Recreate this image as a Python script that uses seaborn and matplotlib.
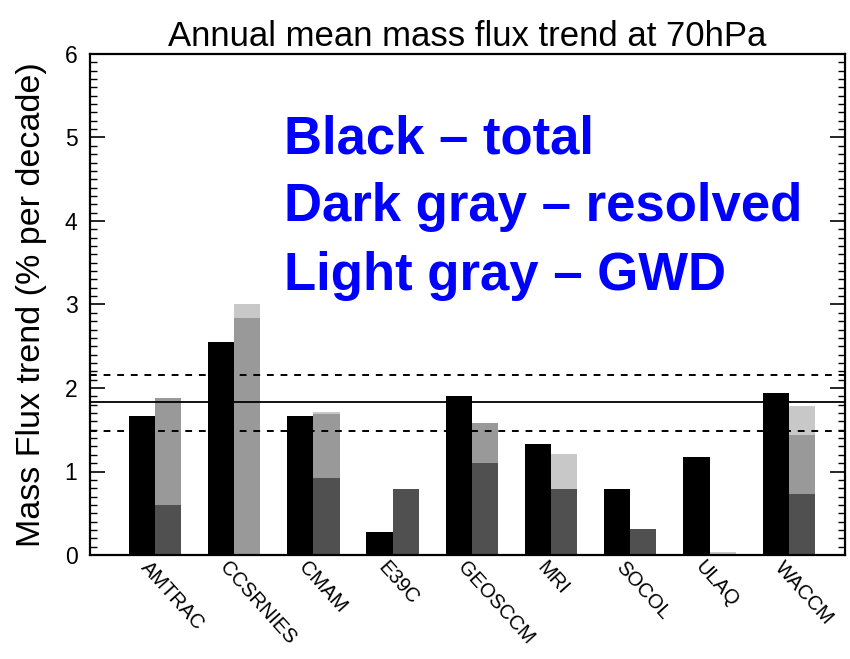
import numpy as np
import pandas as pd
import matplotlib
matplotlib.use("Agg")
import matplotlib.pyplot as plt
import matplotlib.transforms as mtrans
from matplotlib.ticker import MultipleLocator
import seaborn as sns

# ---- data ----
models = ["AMTRAC", "CCSRNIES", "CMAM", "E39C", "GEOSCCM", "MRI", "SOCOL", "ULAQ", "WACCM"]
total = [1.66, 2.55, 1.66, 0.28, 1.91, 1.33, 0.79, 1.17, 1.94]
resolved = [0.60, 0.00, 0.92, 0.79, 1.10, 0.79, 0.31, 0.00, 0.73]
mid_part = [1.28, 2.84, 0.77, 0.00, 0.485, 0.00, 0.00, 0.00, 0.71]
gwd_part = [0.00, 0.16, 0.02, 0.00, 0.00, 0.42, 0.00, 0.03, 0.34]
mean_trend = 1.83
spread_upper = 2.15
spread_lower = 1.48
yticks = [0, 1, 2, 3, 4, 5, 6]
title = "Annual mean mass flux trend at 70hPa"
ylabel = "Mass Flux trend (% per decade)"
notes = ["Black \u2013 total", "Dark gray \u2013 resolved", "Light gray \u2013 GWD"]

sns.set_style("ticks")
plt.rcParams["font.family"] = ["Liberation Sans", "DejaVu Sans"]
plt.rcParams["text.color"] = "black"
plt.rcParams["axes.labelcolor"] = "black"
plt.rcParams["xtick.color"] = "black"
plt.rcParams["ytick.color"] = "black"

W, H = 850, 659
fig = plt.figure(figsize=(W / 100, H / 100), dpi=100)
ax = fig.add_axes([90 / W, 1 - 555 / H, 755 / W, 501 / H])

res = np.array(resolved)
mid = res + np.array(mid_part)
top = mid + np.array(gwd_part)
layers = [(top, "#c8c8c8"), (mid, "#999999"), (res, "#505050")]
for cum, color in layers:
    df = pd.DataFrame({
        "model": models * 2,
        "kind": ["total"] * len(models) + ["parts"] * len(models),
        "value": list(total) + list(cum),
    })
    sns.barplot(data=df, x="model", y="value", hue="kind",
                hue_order=["total", "parts"], order=models,
                palette={"total": "black", "parts": color},
                width=0.66, errorbar=None, linewidth=0, saturation=1,
                legend=False, ax=ax)

ax.axhline(mean_trend, color="black", lw=1.3, zorder=5)
ax.axhline(spread_upper, color="black", lw=1.4, ls=(0, (3.5, 3.5)), zorder=5)
ax.axhline(spread_lower, color="black", lw=1.4, ls=(0, (3.5, 3.5)), zorder=5)

ax.set_xlim(-0.82, 8.71)
ax.set_ylim(0, 6)
ax.set_yticks(yticks)
ax.set_yticklabels([str(t) for t in yticks], fontsize=16.5, color="black")
ax.yaxis.set_minor_locator(MultipleLocator(0.1))
ax.tick_params(axis="y", which="both", direction="in", left=True, right=True,
               labelleft=True, labelright=False, color="black")
ax.tick_params(axis="y", which="major", length=11, width=1.2, pad=9)
ax.tick_params(axis="y", which="minor", length=5, width=1.0)

ax.set_xticks(range(len(models)))
ax.set_xticklabels(models, rotation=-48, ha="left", va="top",
                   rotation_mode="anchor", fontsize=14.5, color="black")
ax.tick_params(axis="x", length=0, pad=2)
offset = mtrans.ScaledTranslation(-4 / 100, 0, fig.dpi_scale_trans)
for lbl in ax.get_xticklabels():
    lbl.set_transform(lbl.get_transform() + offset)

for sp in ax.spines.values():
    sp.set_visible(True)
    sp.set_color("black")
    sp.set_linewidth(1.6)

ax.set_xlabel("")
ax.set_ylabel(ylabel, fontsize=24.5, color="black")
ax.yaxis.set_label_coords(-0.057, 0.5)
ax.set_title(title, fontsize=25, pad=6, color="black")

baselines = [153, 221, 290]
for txt, yb in zip(notes, baselines):
    fig.text(284 / W, 1 - yb / H, txt, color="#0000ff", fontsize=38,
             fontweight="bold", va="baseline", ha="left")

fig.savefig("out.png", dpi=100)
